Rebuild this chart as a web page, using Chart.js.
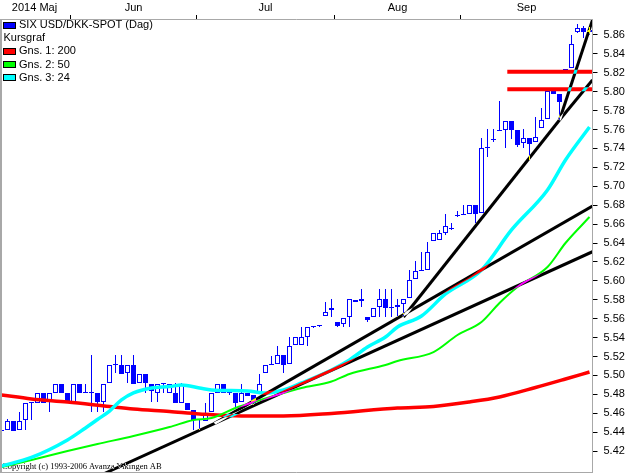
<!DOCTYPE html>
<html><head><meta charset="utf-8">
<script src="https://cdn.jsdelivr.net/npm/chart.js@4.4.1/dist/chart.umd.min.js"></script>
<style>html,body{margin:0;padding:0;background:#fff;overflow:hidden}canvas{display:block}</style>
</head><body>
<canvas id="c" width="629" height="474" style="width:629px;height:474px"></canvas>
<script>
const dates = [
"2014-05-15","2014-05-16","2014-05-19","2014-05-20","2014-05-21","2014-05-22","2014-05-23","2014-05-26","2014-05-27","2014-05-28","2014-05-29","2014-05-30",
"2014-06-02","2014-06-03","2014-06-04","2014-06-05","2014-06-06","2014-06-09","2014-06-10","2014-06-11","2014-06-12","2014-06-13","2014-06-16","2014-06-17","2014-06-18","2014-06-19","2014-06-20","2014-06-23","2014-06-24","2014-06-25","2014-06-26","2014-06-27","2014-06-30",
"2014-07-01","2014-07-02","2014-07-03","2014-07-04","2014-07-07","2014-07-08","2014-07-09","2014-07-10","2014-07-11","2014-07-14","2014-07-15","2014-07-16","2014-07-17","2014-07-18","2014-07-21","2014-07-22","2014-07-23","2014-07-24","2014-07-25","2014-07-28","2014-07-29","2014-07-30","2014-07-31",
"2014-08-01","2014-08-04","2014-08-05","2014-08-06","2014-08-07","2014-08-08","2014-08-11","2014-08-12","2014-08-13","2014-08-14","2014-08-15","2014-08-18","2014-08-19","2014-08-20","2014-08-21","2014-08-22","2014-08-25","2014-08-26","2014-08-27","2014-08-28","2014-08-29",
"2014-09-01","2014-09-02","2014-09-03","2014-09-04","2014-09-05","2014-09-08","2014-09-09","2014-09-10","2014-09-11","2014-09-12","2014-09-15","2014-09-16","2014-09-17","2014-09-18","2014-09-19","2014-09-22","2014-09-23","2014-09-24","2014-09-25","2014-09-26","2014-09-29","2014-09-30"];

const openP = [
5.4412,5.4422,5.4518,5.4422,5.4528,5.4708,5.4708,5.4814,5.4719,5.4814,
5.4909,5.4814,5.4719,5.4909,5.4814,5.4814,5.4814,5.4719,5.4920,5.5110,
5.5110,5.5025,5.5110,5.4920,5.5015,5.4909,5.4814,5.4909,5.4814,5.4814,
5.4708,5.4708,5.4634,5.4528,5.4518,5.4613,5.4814,5.4909,5.4814,5.4814,
5.4719,5.4814,5.4793,5.4814,5.5025,5.5110,5.5121,5.5216,5.5121,5.5322,
5.5322,5.5406,5.5512,5.5522,5.5628,5.5692,5.5565,5.5544,5.5618,5.5797,
5.5787,5.5618,5.5618,5.5724,5.5808,5.5713,5.5724,5.5755,5.5819,5.6019,
5.6104,5.6115,5.6421,5.6432,5.6506,5.6548,5.6686,5.6696,5.6707,5.6802,
5.6717,5.7405,5.7489,5.7585,5.7596,5.7691,5.7596,5.7458,5.7511,5.7468,
5.7616,5.7712,5.8008,5.7976,5.8209,5.8251,5.8632,5.8674,5.8653];
const closeP = [
5.4412,5.4518,5.4412,5.4518,5.4708,5.4719,5.4814,5.4708,5.4814,5.4909,
5.4814,5.4719,5.4909,5.4814,5.4814,5.4814,5.4719,5.4909,5.5110,5.5110,
5.5015,5.5110,5.4909,5.5015,5.4920,5.4835,5.4909,5.4909,5.4909,5.4708,
5.4909,5.4634,5.4528,5.4539,5.4602,5.4814,5.4909,5.4814,5.4814,5.4708,
5.4814,5.4782,5.4708,5.4909,5.5110,5.5110,5.5216,5.5110,5.5311,5.5406,
5.5406,5.5512,5.5512,5.5522,5.5670,5.5713,5.5522,5.5607,5.5808,5.5776,
5.5808,5.5586,5.5713,5.5808,5.5713,5.5713,5.5745,5.5808,5.6009,5.6104,
5.6115,5.6305,5.6506,5.6506,5.6580,5.6548,5.6686,5.6707,5.6802,5.6707,
5.7405,5.7416,5.7500,5.7596,5.7691,5.7596,5.7437,5.7511,5.7447,5.7521,
5.7701,5.8008,5.7976,5.7891,5.8240,5.8505,5.8674,5.8632,5.8632];
const highP = [
5.4708,5.4539,5.4518,5.4613,5.4708,5.4719,5.4814,5.4814,5.4814,5.4909,
5.4909,5.4814,5.4909,5.4909,5.4909,5.5216,5.4814,5.4909,5.5110,5.5216,
5.5216,5.5110,5.5216,5.5015,5.5015,5.4909,5.4909,5.4909,5.4909,5.4920,
5.4920,5.4708,5.4634,5.4539,5.4708,5.4814,5.4909,5.4909,5.4835,5.4814,
5.4909,5.4814,5.4793,5.5015,5.5110,5.5205,5.5311,5.5216,5.5406,5.5406,
5.5512,5.5512,5.5522,5.5533,5.5776,5.5808,5.5565,5.5607,5.5808,5.5797,
5.5914,5.5618,5.5713,5.5914,5.5914,5.5914,5.5808,5.5808,5.6115,5.6210,
5.6305,5.6411,5.6506,5.6538,5.6707,5.6612,5.6739,5.6802,5.6802,5.6802,
5.7511,5.7606,5.7606,5.7902,5.7691,5.7691,5.7596,5.7606,5.7511,5.7733,
5.7828,5.8039,5.8039,5.7976,5.8240,5.8600,5.8716,5.8695,5.8685];
const lowP = [
5.4401,5.4422,5.4412,5.4422,5.4422,5.4528,5.4708,5.4708,5.4613,5.4814,
5.4814,5.4719,5.4719,5.4814,5.4814,5.4613,5.4613,5.4613,5.4920,5.5025,
5.5015,5.4920,5.4909,5.4920,5.4814,5.4719,5.4719,5.4814,5.4814,5.4708,
5.4708,5.4634,5.4422,5.4422,5.4518,5.4613,5.4814,5.4814,5.4793,5.4634,
5.4719,5.4782,5.4687,5.4814,5.5025,5.5110,5.5121,5.5025,5.5121,5.5322,
5.5322,5.5311,5.5501,5.5512,5.5628,5.5618,5.5512,5.5512,5.5512,5.5776,
5.5724,5.5565,5.5618,5.5618,5.5618,5.5618,5.5618,5.5618,5.5819,5.6019,
5.6104,5.6115,5.6421,5.6432,5.6485,5.6538,5.6675,5.6696,5.6707,5.6612,
5.6717,5.7310,5.7468,5.7585,5.7405,5.7500,5.7416,5.7405,5.7278,5.7468,
5.7616,5.7712,5.7976,5.7701,5.8209,5.8251,5.8621,5.8568,5.8600];

// moving averages (day index, value)
const ma200Idx = [0,5,11,18,22,28,33,40,47,55,66,72,78,83,89,94,98];
const ma200 = [5.4793,5.4751,5.4719,5.4671,5.4645,5.4618,5.4592,5.4571,5.4571,5.4597,5.4655,5.4671,5.4719,5.4772,5.4872,5.4962,5.5036];
const ma50Idx = [0,5,11,16,22,28,32,35,39,44,47,50,55,58,64,66,72,76,80,83,86,91,94,98];
const ma50 = [5.4031,5.4105,5.4200,5.4274,5.4359,5.4454,5.4528,5.4549,5.4655,5.4756,5.4814,5.4867,5.4935,5.5015,5.5110,5.5152,5.5247,5.5427,5.5565,5.5766,5.5935,5.6146,5.6400,5.6675];
const ma24Idx = [0,5,11,14,16,18,20,22,25,28,30,33,35,41,44,47,50,55,58,61,64,66,70,74,80,85,91,94,98];
const ma24 = [5.4042,5.4132,5.4317,5.4444,5.4533,5.4623,5.4740,5.4814,5.4867,5.4882,5.4898,5.4867,5.4846,5.4835,5.4814,5.4846,5.4920,5.5057,5.5163,5.5300,5.5406,5.5512,5.5628,5.5861,5.6115,5.6538,5.6961,5.7278,5.7627];

// drawn trend lines (start/end in day index and price)
const trendX = [[16.95,98.5],[35.5,98.5],[67,93],[93,98.5],[93,98.5]];
const trendY = [[5.3957,5.6308],[5.4492,5.6791],[5.5618,5.7701],[5.7701,5.8124],[5.7701,5.8759]];
// horizontal red levels
const levelX = [84.3, 98.5];
const levelY = [5.8212, 5.8026];

const monthNames = ['2014 Maj','Jun','Jul','Aug','Sep'];
const yTicks = [5.42,5.44,5.46,5.48,5.50,5.52,5.54,5.56,5.58,5.60,5.62,5.64,5.66,5.68,5.70,5.72,5.74,5.76,5.78,5.80,5.82,5.84,5.86];
const legendTitle = 'Kursgraf';
const copyrightText = 'Copyright (c) 1993-2006 Avanza Vikingen AB';

const BLUE='#0000ff', RED='#ff0000', GREEN='#00ff00', CYAN='#00ffff';
const N = dates.length;
const monthStart = [];
dates.forEach((d,i)=>{ if(i===0 || d.slice(5,7)!==dates[i-1].slice(5,7)) monthStart.push(i); });
const bounds = monthStart.slice(1).map(s=>s-0.5);
const centers = monthStart.map((s,k)=>((s-0.5)+((k+1<monthStart.length?monthStart[k+1]:N)-0.5))/2);
const xTickVals = bounds.concat(centers).sort((a,b)=>a-b);

Chart.defaults.font.family = "'Liberation Sans', Arial, sans-serif";
Chart.defaults.font.size = 11;
Chart.defaults.color = '#000';

const pts = (xs, ys) => xs.map((x,k)=>({x:x, y:ys[k]}));
const lineDs = (label, data, color, w, order, extra) => Object.assign({
  type:'line', label, data, borderColor:color, backgroundColor:color, borderWidth:w,
  pointRadius:0, fill:false, order, cubicInterpolationMode:'monotone'}, extra||{});

const datasets = [
  { type:'bar', label:'wick', data: dates.map((d,i)=>({x:i, y:[lowP[i], highP[i]]})),
    backgroundColor:BLUE, borderWidth:0, barThickness:1, grouped:false, inflateAmount:0, order:20 },
  { type:'bar', label:'SIX USD/DKK-SPOT (Dag)', data: dates.map((d,i)=>({x:i, y:[openP[i], closeP[i]]})),
    backgroundColor: c => closeP[c.dataIndex] >= openP[c.dataIndex] ? '#ffffff' : BLUE,
    borderColor:BLUE, borderWidth:1, borderSkipped:false, barThickness:5, minBarLength:1,
    grouped:false, inflateAmount:0, order:19 },
  lineDs('Gns. 1: 200', pts(ma200Idx, ma200), RED, 3.5, 18),
  lineDs('Gns. 2: 50', pts(ma50Idx, ma50), GREEN, 2, 17),
  lineDs('Gns. 3: 24', pts(ma24Idx, ma24), CYAN, 3.5, 16),
];
levelY.forEach((v,k)=>datasets.push(lineDs('level'+k, levelX.map(x=>({x, y:v})), RED, 4, 10, {cubicInterpolationMode:'default'})));
trendX.forEach((xs,k)=>datasets.push(lineDs('trend'+k, pts(xs, trendY[k]), '#ffffff', 3, 5, {diff:true, cubicInterpolationMode:'default'})));

const legendRows = [
  {ds:1, color:BLUE}, {text:legendTitle}, {ds:2, color:RED}, {ds:3, color:GREEN}, {ds:4, color:CYAN}
];

const bgPlugin = { id:'bg', beforeDraw(c){ const x=c.ctx; x.save(); x.globalCompositeOperation='source-over'; x.fillStyle='#fff'; x.fillRect(0,0,c.width,c.height); x.restore(); } };
const copyPlugin = { id:'copy', beforeDatasetsDraw(c){ const x=c.ctx; x.save(); x.font='8.5px "Liberation Serif", "Times New Roman", serif'; x.fillStyle='#000'; x.textBaseline='middle'; x.fillText(copyrightText, 2, 466.5); x.restore(); } };
const diffPlugin = { id:'diff',
  beforeDatasetDraw(c, a){ if (c.data.datasets[a.index].diff) c.ctx.globalCompositeOperation='difference'; },
  afterDatasetDraw(c){ c.ctx.globalCompositeOperation='source-over'; } };
const legendPlugin = { id:'lg', afterDatasetsDraw(c){
  const x=c.ctx; x.save(); x.font="11px 'Liberation Sans', Arial, sans-serif"; x.textBaseline='middle'; x.fillStyle='#000';
  legendRows.forEach((r,k)=>{
    const yc = 25 + k*13.2;
    if (r.color){
      const top = Math.round(yc-3.5);
      x.fillStyle='#000'; x.fillRect(3, top, 13, 7);
      x.fillStyle=r.color; x.fillRect(4, top+1, 11, 5);
      x.fillStyle='#000'; x.fillText(c.data.datasets[r.ds].label, 19, yc);
    } else { x.fillStyle='#000'; x.fillText(r.text, 3.5, yc); }
  });
  x.restore(); } };
const framePlugin = { id:'frame', afterDraw(c){
  const a=c.chartArea, x=c.ctx; x.save(); x.strokeStyle='#a8a8a8'; x.lineWidth=1; x.beginPath();
  x.moveTo(0,19.5); x.lineTo(a.right,19.5);
  x.moveTo(0,a.bottom); x.lineTo(a.right,a.bottom);
  x.moveTo(a.right,19); x.lineTo(a.right,a.bottom+0.5);
  x.stroke();
  x.lineWidth=2; x.beginPath(); x.moveTo(1,19); x.lineTo(1,a.bottom); x.stroke();
  x.restore(); } };

new Chart(document.getElementById('c'), {
  type:'bar',
  data:{ datasets },
  options:{
    responsive:false, animation:false, devicePixelRatio:1, events:[],
    layout:{ padding:{ left:0, right:0, top:0, bottom:1.5 } },
    plugins:{ legend:{display:false}, tooltip:{enabled:false} },
    scales:{
      x:{ type:'linear', position:'top', min:-0.25, max:N-0.5, offset:false,
        grid:{ display:true, drawOnChartArea:false, drawTicks:true, tickLength:4, offset:false, tickWidth:1,
          tickColor: c => (c.tick && bounds.includes(c.tick.value)) ? '#000' : 'rgba(0,0,0,0)' },
        border:{ display:false },
        ticks:{ autoSkip:false, maxRotation:0, minRotation:0, padding:0, color:'#000',
          callback: v => { const k = centers.indexOf(v); return k>=0 ? monthNames[k] : ''; } },
        afterBuildTicks: s => { s.ticks = xTickVals.map(v=>({value:v})); },
        afterFit: s => { s.height = 19; s.paddingLeft = 0; s.paddingRight = 0; } },
      y:{ type:'linear', position:'right', min:5.3973, max:5.8769, beginAtZero:false,
        grid:{ display:true, drawOnChartArea:false, drawTicks:true, tickLength:5, tickColor:'#000' },
        border:{ display:false },
        ticks:{ autoSkip:false, padding:6, color:'#000', callback: v => v.toFixed(2) },
        afterBuildTicks: s => { s.ticks = yTicks.map(v=>({value:v})); },
        afterFit: s => { s.width = 36.5; s.paddingTop = 0; s.paddingBottom = 0; } }
    }
  },
  plugins:[bgPlugin, copyPlugin, diffPlugin, legendPlugin, framePlugin]
});
</script>
</body></html>
